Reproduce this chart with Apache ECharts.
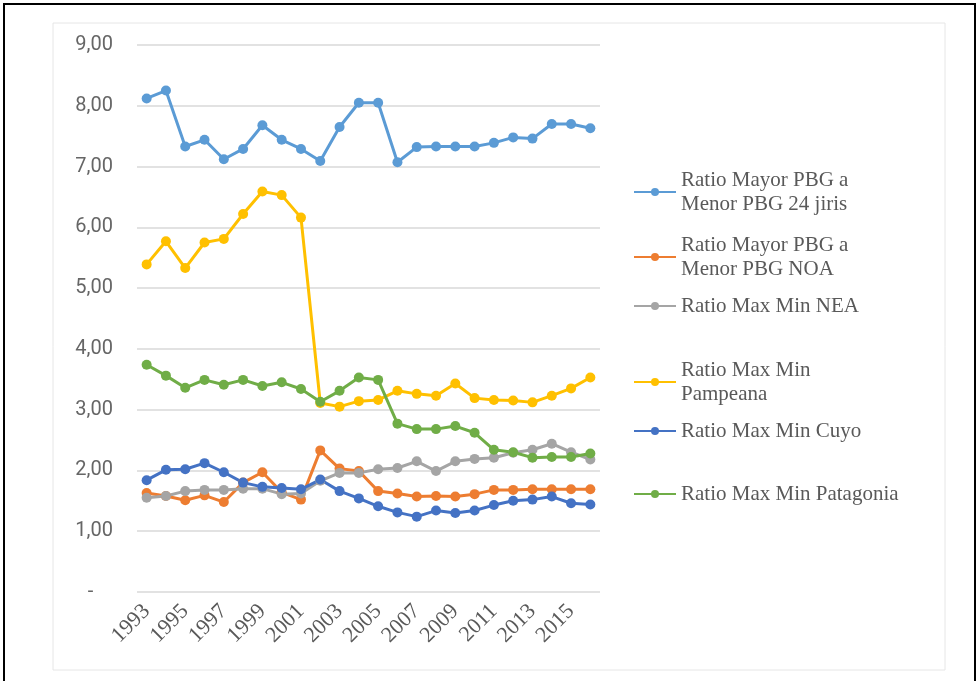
<!DOCTYPE html>
<html>
<head>
<meta charset="utf-8">
<script src="https://cdn.jsdelivr.net/npm/echarts@6/dist/echarts.min.js"></script>
<style>
  html, body { margin: 0; padding: 0; background: #fff; }
  #chart { width: 977px; height: 681px; }
</style>
</head>
<body>
<div id="chart"></div>
<script>
// years on the x axis
const years = ['1993', '1994', '1995', '1996', '1997', '1998', '1999', '2000', '2001', '2002', '2003', '2004',
  '2005', '2006', '2007', '2008', '2009', '2010', '2011', '2012', '2013', '2014', '2015', '2016'];

const ratio24 = [8.12, 8.25, 7.33, 7.44, 7.12, 7.29, 7.68, 7.44, 7.29, 7.09, 7.65, 8.05,
  8.05, 7.07, 7.32, 7.33, 7.33, 7.33, 7.39, 7.48, 7.46, 7.70, 7.70, 7.63];
const ratioNOA = [1.63, 1.58, 1.51, 1.59, 1.48, 1.80, 1.97, 1.64, 1.52, 2.33, 2.03, 1.99,
  1.66, 1.62, 1.57, 1.58, 1.57, 1.61, 1.68, 1.68, 1.69, 1.69, 1.69, 1.69];
const ratioNEA = [1.55, 1.58, 1.66, 1.68, 1.68, 1.70, 1.70, 1.61, 1.62, 1.83, 1.96, 1.96,
  2.02, 2.04, 2.15, 1.99, 2.15, 2.19, 2.21, 2.29, 2.34, 2.44, 2.30, 2.18];
const ratioPampeana = [5.39, 5.77, 5.33, 5.75, 5.81, 6.22, 6.59, 6.53, 6.16, 3.11, 3.05, 3.14,
  3.16, 3.31, 3.26, 3.23, 3.43, 3.19, 3.16, 3.15, 3.12, 3.23, 3.35, 3.53];
const ratioCuyo = [1.84, 2.01, 2.02, 2.12, 1.97, 1.80, 1.73, 1.71, 1.69, 1.85, 1.66, 1.54,
  1.41, 1.31, 1.24, 1.34, 1.30, 1.34, 1.43, 1.50, 1.52, 1.57, 1.46, 1.44];
const ratioPatagonia = [3.74, 3.56, 3.36, 3.49, 3.41, 3.49, 3.39, 3.45, 3.34, 3.13, 3.31, 3.53,
  3.49, 2.77, 2.68, 2.68, 2.73, 2.62, 2.34, 2.30, 2.21, 2.22, 2.22, 2.28];

const seriesNames = ['Ratio Mayor PBG a Menor PBG 24 jiris', 'Ratio Mayor PBG a Menor PBG NOA', 'Ratio Max Min NEA',
  'Ratio Max Min Pampeana', 'Ratio Max Min Cuyo', 'Ratio Max Min Patagonia'];
const seriesData = [ratio24, ratioNOA, ratioNEA, ratioPampeana, ratioCuyo, ratioPatagonia];
const colors = ['#5B9BD5', '#ED7D31', '#A5A5A5', '#FFC000', '#4472C4', '#70AD47'];

// how Excel wrapped the legend labels
const legendLabels = ['Ratio Mayor PBG a\nMenor PBG 24 jiris', 'Ratio Mayor PBG a\nMenor PBG NOA', 'Ratio Max Min NEA',
  'Ratio Max Min\nPampeana', 'Ratio Max Min Cuyo', 'Ratio Max Min Patagonia'];
const legendTops = [177, 242, 305, 367, 430, 493];

const chart = echarts.init(document.getElementById('chart'));

const legends = seriesNames.map((name, i) => {
  const twoLines = legendLabels[i].indexOf('\n') >= 0;
  return {
    data: [name],
    left: 628,
    top: legendTops[i] - (twoLines ? 26 : 16),
    itemWidth: 42,
    itemHeight: 10,
    itemGap: 0,
    formatter: () => legendLabels[i],
    textStyle: {
      fontFamily: 'Liberation Serif',
      fontSize: 21,
      lineHeight: 24,
      color: '#595959',
      padding: twoLines ? [24, 0, 0, 0] : [0, 0, 0, 0]
    }
  };
});

chart.setOption({
  animation: false,
  color: colors,
  graphic: [
    { type: 'rect', shape: { x: 4, y: 4, width: 971, height: 690 }, style: { fill: 'none', stroke: '#000', lineWidth: 2 }, silent: true },
    { type: 'rect', shape: { x: 53, y: 23, width: 892, height: 647 }, style: { fill: 'none', stroke: '#e6e6e6', lineWidth: 1 }, silent: true }
  ],
  legend: legends,
  grid: { left: 137, right: 377, top: 45, bottom: 89 },
  xAxis: {
    type: 'category',
    data: years,
    boundaryGap: true,
    axisLine: { show: false },
    axisTick: { show: false },
    axisLabel: {
      interval: 1,
      rotate: 45,
      margin: 16,
      fontFamily: 'Liberation Serif',
      fontSize: 22,
      color: '#595959'
    }
  },
  yAxis: {
    type: 'value',
    min: 0,
    max: 9,
    interval: 1,
    axisLine: { show: false },
    axisTick: { show: false },
    splitLine: { lineStyle: { color: '#d9d9d9', width: 1.5 } },
    axisLabel: {
      margin: 24,
      fontFamily: 'Roboto',
      fontSize: 20,
      color: '#666',
      formatter: v => v === 0 ? '-    ' : v.toFixed(2).replace('.', ',')
    }
  },
  series: seriesNames.map((name, i) => ({
    name: name,
    type: 'line',
    data: seriesData[i],
    symbol: 'circle',
    symbolSize: 10,
    lineStyle: { width: 3 },
    itemStyle: { color: colors[i] }
  }))
});
</script>
</body>
</html>
